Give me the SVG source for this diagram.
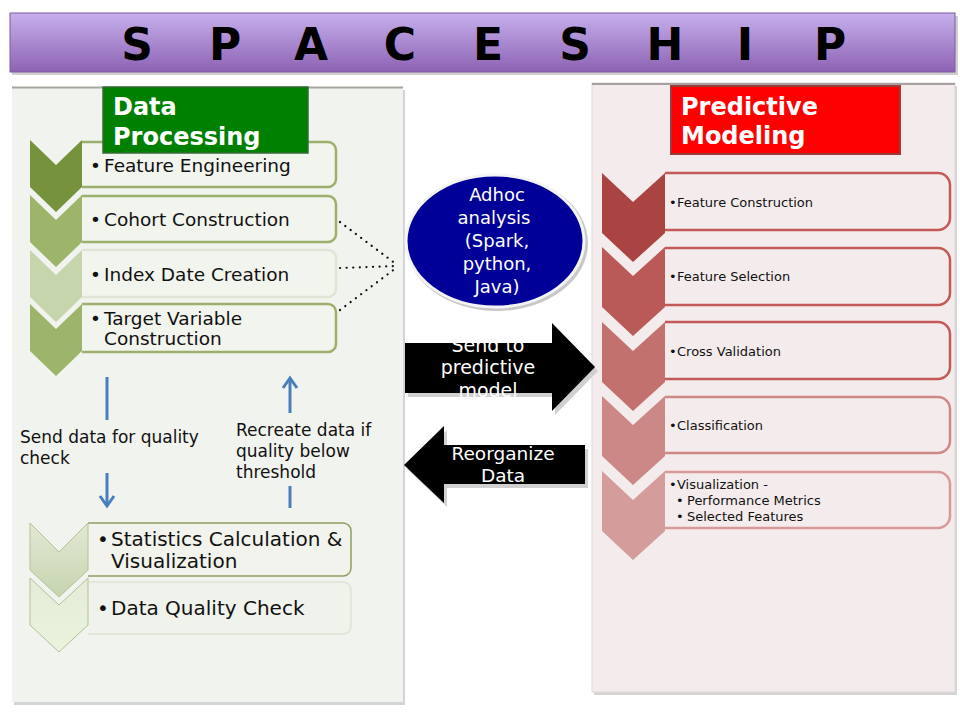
<svg xmlns="http://www.w3.org/2000/svg" width="960" height="720" viewBox="0 0 960 720">
<defs>
<linearGradient id="gTitle" x1="0" y1="0" x2="0" y2="1">
<stop offset="0" stop-color="#c6b0ec"/><stop offset="1" stop-color="#8d62b4"/>
</linearGradient>
<linearGradient id="gChevA" x1="0" y1="0" x2="0" y2="1">
<stop offset="0" stop-color="#e2e9d3"/><stop offset="1" stop-color="#c6d4b0"/>
</linearGradient>
<linearGradient id="gChevB" x1="0" y1="0" x2="0" y2="1">
<stop offset="0" stop-color="#e4ecd7"/><stop offset="1" stop-color="#eaf3de"/>
</linearGradient>
<style>
.t{font-family:"DejaVu Sans","Liberation Sans",sans-serif;}
.hd{font-family:"DejaVu Sans","Liberation Sans",sans-serif;font-weight:bold;font-size:24px;fill:#fff;}
.li{font-size:18.5px;fill:#111;}
.lb{font-size:20px;fill:#111;}
.ri{font-size:13px;fill:#111;}
.an{font-size:17px;fill:#111;}
.gbox{fill:#f2f4ee;stroke:#9caf6c;stroke-width:2.5;}
.rbox{fill:#f4ecec;stroke:#c45a58;stroke-width:2.5;}
.dot{fill:none;stroke:#111;stroke-width:2.2;stroke-linecap:round;stroke-dasharray:0.1 6.5;}
.blue{fill:none;stroke:#4a7ebb;stroke-width:3;}
</style>
</defs>
<rect width="960" height="720" fill="#ffffff"/>

<g id="title">
<rect x="12" y="16" width="946" height="59" fill="#cfcfcf"/>
<rect x="10" y="13" width="945" height="59" fill="url(#gTitle)" stroke="#7d5aa0" stroke-width="1"/>
<text class="t" x="137 225 311 400 488 575 665 745 830" y="60" font-size="44" font-weight="bold" text-anchor="middle" fill="#000">SPACESHIP</text>
</g>

<g id="left-panel">
<rect x="14" y="90" width="391" height="615" fill="#d4d4d4"/>
<rect x="12" y="87" width="391" height="615" fill="#f1f3ee"/>
<line x1="12" y1="87.5" x2="403" y2="87.5" stroke="#a4a7a0" stroke-width="2"/>
</g>

<g id="right-panel">
<rect x="594" y="86" width="363" height="609" fill="#d4d4d4"/>
<rect x="592" y="83" width="363" height="609" fill="#f4ecec" stroke="#e2dada" stroke-width="1"/>
<line x1="592" y1="84" x2="955" y2="84" stroke="#a8a0a0" stroke-width="2"/>
</g>

<g id="dp-feature-engineering">
<path class="gbox" d="M82,142 H328 a8,8 0 0 1 8,8 V179 a8,8 0 0 1 -8,8 H82"/>
<polygon points="30,140 56,165 82,140 82,187 56,212 30,187" fill="#76923c"/>
<text class="t li" y="172"><tspan x="90">•</tspan><tspan x="104">Feature Engineering</tspan></text>
</g>
<g id="dp-cohort-construction">
<path class="gbox" d="M82,196 H328 a8,8 0 0 1 8,8 V234 a8,8 0 0 1 -8,8 H82"/>
<polygon points="30,195 56,220 82,195 82,242 56,267 30,242" fill="#9db56a"/>
<text class="t li" y="226"><tspan x="90">•</tspan><tspan x="104">Cohort Construction</tspan></text>
</g>
<g id="dp-index-date">
<path class="gbox" d="M82,250 H328 a8,8 0 0 1 8,8 V289 a8,8 0 0 1 -8,8 H82" style="stroke:#dfe5d4"/>
<polygon points="30,250 56,275 82,250 82,297 56,322 30,297" fill="#c7d5ad"/>
<text class="t li" y="281"><tspan x="90">•</tspan><tspan x="104">Index Date Creation</tspan></text>
</g>
<g id="dp-target-variable">
<path class="gbox" d="M82,304 H328 a8,8 0 0 1 8,8 V344 a8,8 0 0 1 -8,8 H82"/>
<polygon points="30,304 56,329 82,304 82,351 56,376 30,351" fill="#9db56a"/>
<text class="t li" y="325"><tspan x="90">•</tspan><tspan x="104">Target Variable</tspan></text>
<text class="t li" x="104" y="345">Construction</text>
</g>

<g id="data-processing-header">
<rect x="103" y="87" width="205" height="66" fill="#008000" stroke="#356b35" stroke-width="1.5"/>
<text class="hd" x="113" y="115">Data</text>
<text class="hd" x="113" y="145">Processing</text>
</g>

<g id="predictive-modeling-header">
<rect x="671" y="86" width="229" height="68" fill="#ff0000" stroke="#9b3c3c" stroke-width="2"/>
<text class="hd" x="681" y="115">Predictive</text>
<text class="hd" x="681" y="144">Modeling</text>
</g>

<g id="dq-statistics">
<path d="M88,523 H343 a8,8 0 0 1 8,8 V568 a8,8 0 0 1 -8,8 H88" fill="#f1f3ec" stroke="#8e9e62" stroke-width="1.5"/>
<polygon points="30,523 59,552 88,523 88,570 59,597 30,570" fill="url(#gChevA)" stroke="#b3c197" stroke-width="1"/>
<text class="t lb" y="546"><tspan x="97">•</tspan><tspan x="111">Statistics Calculation &amp;</tspan></text>
<text class="t lb" x="111" y="568">Visualization</text>
</g>
<g id="dq-data-quality">
<path d="M88,582 H343 a8,8 0 0 1 8,8 V626 a8,8 0 0 1 -8,8 H88" fill="#f0f2ec" stroke="#dde3d2" stroke-width="1.5"/>
<polygon points="30,578 59,605 88,578 88,625 59,652 30,625" fill="url(#gChevB)" stroke="#b3c197" stroke-width="1"/>
<text class="t lb" y="615"><tspan x="97">•</tspan><tspan x="111">Data Quality Check</tspan></text>
</g>

<g id="adhoc-analysis">
<ellipse cx="497" cy="243" rx="91" ry="68" fill="#c8c8c8"/>
<ellipse cx="495" cy="241" rx="89" ry="66" fill="#000099" stroke="#f4f4f4" stroke-width="3"/>
<g class="t" font-size="18" fill="#fff" text-anchor="middle">
<text x="497" y="201">Adhoc</text>
<text x="494" y="224">analysis</text>
<text x="497" y="247">(Spark,</text>
<text x="497" y="270">python,</text>
<text x="497" y="293">Java)</text>
</g>
</g>

<g id="send-to-predictive">
<polygon points="408,347 555,347 555,327 598,371 555,415 555,397 408,397" fill="#d0d0d0"/>
<polygon points="405,343 552,343 552,323 595,367 552,411 552,393 405,393" fill="#000"/>
<g class="t" font-size="19" fill="#fff" text-anchor="middle">
<text x="488" y="352">Send to</text>
<text x="488" y="374">predictive</text>
<text x="488" y="397">model</text>
</g>
</g>

<g id="reorganize-data">
<polygon points="407,469 447,430 447,449 588,449 588,488 447,488 447,507" fill="#d0d0d0"/>
<polygon points="404,465 444,426 444,445 585,445 585,484 444,484 444,503" fill="#000"/>
<g class="t" font-size="18.5" fill="#fff" text-anchor="middle">
<text x="503" y="460">Reorganize</text>
<text x="503" y="482">Data</text>
</g>
</g>

<g id="pm-feature-construction">
<path class="rbox" d="M665,173 H938 a12,12 0 0 1 12,12 V218 a12,12 0 0 1 -12,12 H665"/>
<polygon points="602,173 633,202 665,173 665,233 633,262 602,233" fill="#a94442"/>
<text class="t ri" y="207"><tspan x="669">•</tspan><tspan x="677">Feature Construction</tspan></text>
</g>
<g id="pm-feature-selection">
<path class="rbox" d="M665,248 H938 a12,12 0 0 1 12,12 V293 a12,12 0 0 1 -12,12 H665"/>
<polygon points="602,247 633,276 665,247 665,307 633,336 602,307" fill="#b95a58"/>
<text class="t ri" y="281"><tspan x="669">•</tspan><tspan x="677">Feature Selection</tspan></text>
</g>
<g id="pm-cross-validation">
<path class="rbox" d="M665,322 H938 a12,12 0 0 1 12,12 V367 a12,12 0 0 1 -12,12 H665"/>
<polygon points="602,322 633,351 665,322 665,382 633,411 602,382" fill="#c2716f"/>
<text class="t ri" y="356"><tspan x="669">•</tspan><tspan x="677">Cross Validation</tspan></text>
</g>
<g id="pm-classification">
<path class="rbox" d="M665,397 H938 a12,12 0 0 1 12,12 V441 a12,12 0 0 1 -12,12 H665" style="stroke:#d08886"/>
<polygon points="602,396 633,425 665,396 665,456 633,485 602,456" fill="#cc8886"/>
<text class="t ri" y="430"><tspan x="669">•</tspan><tspan x="677">Classification</tspan></text>
</g>
<g id="pm-visualization">
<path class="rbox" d="M665,472 H938 a12,12 0 0 1 12,12 V516 a12,12 0 0 1 -12,12 H665" style="stroke:#d89a98"/>
<polygon points="602,471 633,500 665,471 665,531 633,560 602,531" fill="#d49d9c"/>
<text class="t ri" y="489"><tspan x="669">•</tspan><tspan x="677">Visualization -</tspan></text>
<text class="t ri" y="505"><tspan x="676">•</tspan><tspan x="687">Performance Metrics</tspan></text>
<text class="t ri" y="521"><tspan x="676">•</tspan><tspan x="687">Selected Features</tspan></text>
</g>

<g id="connectors">
<path class="dot" d="M340,222 L396,264"/>
<path class="dot" d="M340,268 L396,266"/>
<path class="dot" d="M340,310 L396,268"/>
<line class="blue" x1="107" y1="377" x2="107" y2="420"/>
<line class="blue" x1="107" y1="473" x2="107" y2="505"/>
<path class="blue" d="M100,496 L107,506 L114,496" stroke-linejoin="miter"/>
<line class="blue" x1="290" y1="508" x2="290" y2="486"/>
<line class="blue" x1="290" y1="413" x2="290" y2="379"/>
<path class="blue" d="M283,388 L290,378 L297,388" stroke-linejoin="miter"/>
<text class="t an" x="20" y="443">Send data for quality</text>
<text class="t an" x="20" y="464">check</text>
<text class="t an" x="236" y="436">Recreate data if</text>
<text class="t an" x="236" y="457">quality below</text>
<text class="t an" x="236" y="478">threshold</text>
</g>
</svg>
